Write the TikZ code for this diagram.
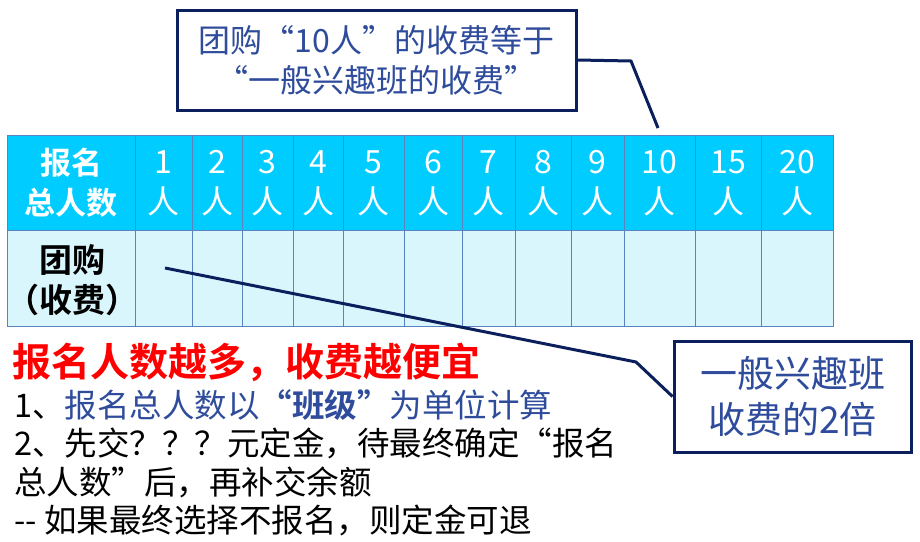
\documentclass[tikz,border=0pt]{standalone}
\usepackage{fontspec}
\setmainfont{Noto Sans CJK SC}
\newfontfamily\cjkb{Noto Sans CJK SC Bold}
\definecolor{hdr}{HTML}{00CCFF}
\definecolor{bodyc}{HTML}{DAF6FD}
\definecolor{gridc}{HTML}{5B82C0}
\definecolor{navy}{HTML}{0A1F5C}
\definecolor{txtblue}{HTML}{2F4C9C}
\begin{document}
\begin{tikzpicture}[x=1pt,y=-1pt,
  cell/.style={draw=gridc,line width=1pt},
  hd/.style={text=white,font=\fontsize{32}{40}\selectfont,align=center},
  callout/.style={draw=navy,line width=3pt,fill=white},
  lead/.style={draw=navy,line width=3pt},
  body/.style={anchor=west,font=\fontsize{32.5}{36}\selectfont,inner sep=0pt}]
\useasboundingbox (0,0) rectangle (920,541);
\fill[hdr] (7,135) rectangle (833,230);
\fill[bodyc] (7,230) rectangle (833,326);
\foreach \x in {135,192,242,293,343,404,462,515,571,624,695,761}
  \draw[cell] (\x,135) -- (\x,326);
\draw[cell] (7,135) rectangle (833,326);
\draw[cell] (7,230) -- (833,230);
\node[hd,font=\cjkb\fontsize{31}{40}\selectfont] (h0) at (71,183) {报名\\总人数};
\foreach \a/\b/\t [count=\i] in {135/192/1,192/242/2,242/293/3,293/343/4,343/404/5,404/462/6,462/515/7,515/571/8,571/624/9,624/695/10,695/761/15,761/833/20}
  \node[hd] (h\i) at ({(\a+\b)/2},183) {\t\\人};
\node[font=\cjkb\fontsize{33}{40}\selectfont,align=center] (r0) at (72,280) {团购\\（收费）};
% callouts
\node[callout,minimum width=399pt,minimum height=100pt,text=txtblue,font=\fontsize{32}{40}\selectfont,align=center] (c1) at (376.5,60) {团购“10人”的收费等于\\“一般兴趣班的收费”};
\coordinate (k1) at (631,61);
\coordinate (t1) at (658,128);
\draw[lead] (c1.east) -- (k1) -- (t1);
\node[callout,minimum width=237pt,minimum height=111pt,text=txtblue,font=\fontsize{37}{46}\selectfont,align=center] (c2) at (792.5,396.5) {一般兴趣班\\收费的2倍};
\coordinate (s2) at (165,268);
\coordinate (k2) at (636,362);
\draw[lead] (s2) -- (k2) -- (c2.west);
% text
\node[body,text=red,font=\cjkb\fontsize{39}{44}\selectfont] (l0) at (12,362) {报名人数越多，收费越便宜};
\node[body] (l1) at (14,405) {1、\textcolor{txtblue}{报名总人数以}{\cjkb\textcolor{txtblue}{“班级”}}\textcolor{txtblue}{为单位计算}};
\node[body] (l2) at (14,443) {2、先交？？？元定金，待最终确定“报名};
\node[body] (l3) at (14,482) {总人数”后，再补交余额};
\node[body] (l4) at (14,520) {-{}- 如果最终选择不报名，则定金可退};
\end{tikzpicture}
\end{document}
